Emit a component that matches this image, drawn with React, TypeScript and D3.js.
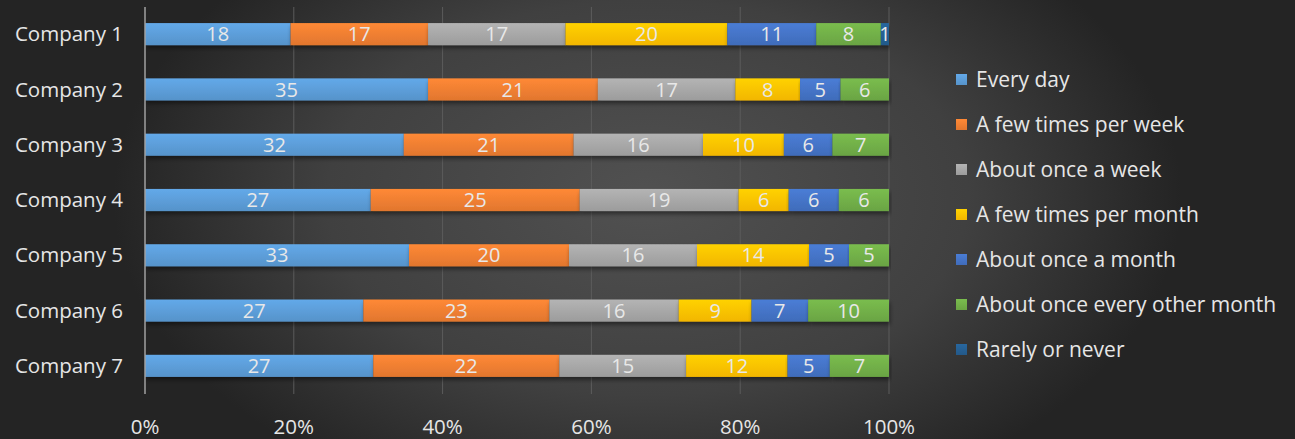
import React from "react";
import * as d3 from "d3";

const companies = ["Company 1", "Company 2", "Company 3", "Company 4", "Company 5", "Company 6", "Company 7"];
const seriesNames = [
  "Every day",
  "A few times per week",
  "About once a week",
  "A few times per month",
  "About once a month",
  "About once every other month",
  "Rarely or never",
];
const everyDay = [18, 35, 32, 27, 33, 27, 27];
const fewPerWeek = [17, 21, 21, 25, 20, 23, 22];
const onceWeek = [17, 17, 16, 19, 16, 16, 15];
const fewPerMonth = [20, 8, 10, 6, 14, 9, 12];
const onceMonth = [11, 5, 6, 6, 5, 7, 5];
const otherMonth = [8, 6, 7, 6, 5, 10, 7];
const rarely = [1, 0, 0, 0, 0, 0, 0];
const tickValues = [0, 0.2, 0.4, 0.6, 0.8, 1.0];

const seriesData = [everyDay, fewPerWeek, onceWeek, fewPerMonth, onceMonth, otherMonth, rarely];
const colors = ["#5B9BD5", "#ED7D31", "#A5A5A5", "#FFC000", "#4472C4", "#70AD47", "#255E91"];

const W = 1295;
const H = 439;
const FONT = "'Open Sans', 'Noto Sans', sans-serif";

export default function App() {
  const rows = companies.map((c, i) => {
    const obj: any = { company: c };
    seriesNames.forEach((s, k) => (obj[s] = seriesData[k][i]));
    return obj;
  });
  const stack = d3.stack<any>().keys(seriesNames).offset(d3.stackOffsetExpand);
  const stacked = stack(rows);

  const x = d3.scaleLinear().domain([0, 1]).range([145, 889]);
  const y = d3.scaleBand().domain(companies).range([6.5, 393.5]).paddingInner(0.6).paddingOuter(0.3);
  const bh = y.bandwidth();

  return (
    <svg width={W} height={H} style={{ position: "absolute", left: 0, top: 0 }} fontFamily={FONT}>
      <defs>
        <radialGradient id="bg" cx="0.5" cy="0.45" r="0.75" gradientTransform="translate(0.5,0.45) scale(0.55,1) translate(-0.5,-0.45)">
          <stop offset="0" stopColor="#515151" />
          <stop offset="0.6" stopColor="#404040" />
          <stop offset="1" stopColor="#242424" />
        </radialGradient>
        {colors.map((c, i) => (
          <linearGradient key={i} id={`g${i}`} x1="0" y1="0" x2="0" y2="1">
            <stop offset="0" stopColor={d3.color(c)!.brighter(0.25).formatHex()} />
            <stop offset="1" stopColor={d3.color(c)!.darker(0.15).formatHex()} />
          </linearGradient>
        ))}
        <filter id="sh" x="-5%" y="-30%" width="110%" height="180%">
          <feDropShadow dx="1" dy="3" stdDeviation="2" floodColor="#000" floodOpacity="0.45" />
        </filter>
      </defs>
      <rect width={W} height={H} fill="url(#bg)" />
      {tickValues.slice(1).map((t) => (
        <line key={t} x1={x(t)} x2={x(t)} y1={7} y2={394} stroke="#5c5c5c" strokeWidth={1} />
      ))}
      {stacked.map((layer, k) => (
        <g key={k}>
          {layer.map((d, i) => {
            const v = seriesData[k][i];
            if (!v) return null;
            const x0 = x(d[0]);
            const x1 = x(d[1]);
            const yy = y(companies[i])!;
            return (
              <g key={i}>
                <rect x={x0} y={yy} width={x1 - x0} height={bh} fill={`url(#g${k})`} filter="url(#sh)" />
                <text
                  x={(x0 + x1) / 2}
                  y={yy + bh / 2}
                  dy="0.36em"
                  textAnchor="middle"
                  fill="#e8e8e8"
                  fontSize={20}
                >
                  {v}
                </text>
              </g>
            );
          })}
        </g>
      ))}
      <line x1={145} x2={145} y1={7} y2={394} stroke="#a0a0a0" strokeWidth={1.5} />
      {companies.map((c) => (
        <text key={c} x={123} y={y(c)! + bh / 2} dy="0.35em" textAnchor="end" fill="#e6e6e6" fontSize={20.5}>
          {c}
        </text>
      ))}
      {tickValues.map((t) => (
        <text key={t} x={x(t)} y={427} dy="0.35em" textAnchor="middle" fill="#e6e6e6" fontSize={20.5}>
          {d3.format(".0%")(t)}
        </text>
      ))}
      {seriesNames.map((s, k) => (
        <g key={s} transform={`translate(956, ${80 + k * 45})`}>
          <rect x={0} y={-6} width={11} height={11} fill={`url(#g${k})`} />
          <text x={20} y={0} dy="0.35em" fill="#e6e6e6" fontSize={21}>
            {s}
          </text>
        </g>
      ))}
    </svg>
  );
}
